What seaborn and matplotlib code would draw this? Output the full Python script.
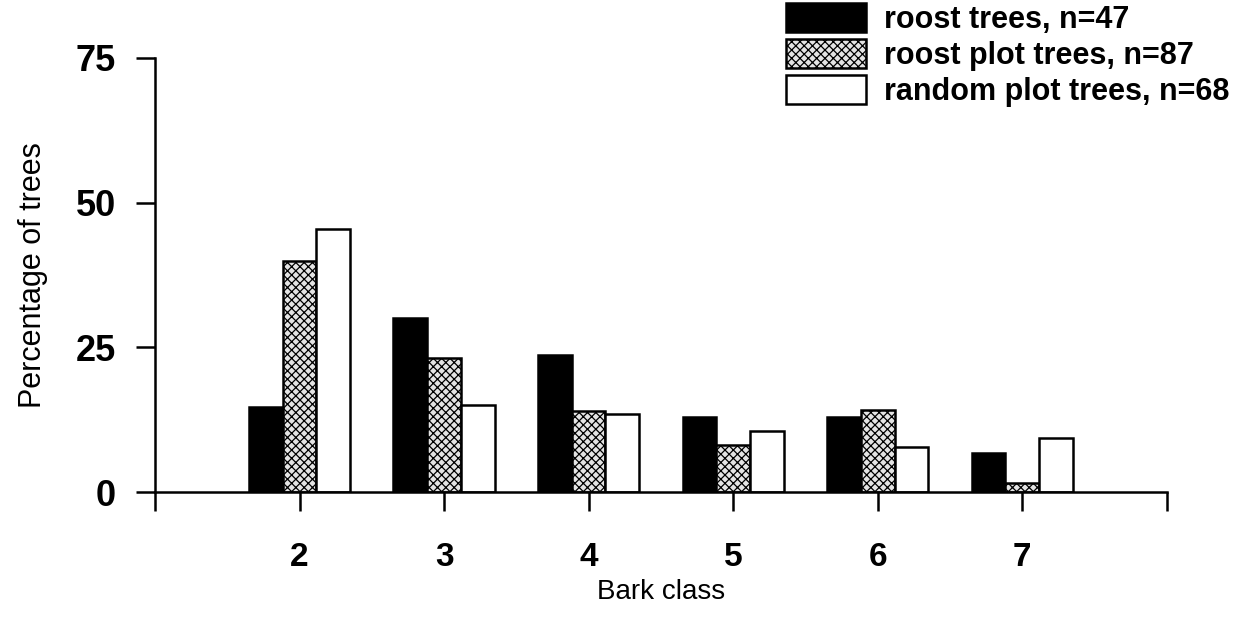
import matplotlib
matplotlib.use("Agg")
import matplotlib.pyplot as plt
import seaborn as sns
import pandas as pd

classes = ["2", "3", "4", "5", "6", "7"]
roost_trees = [14.7, 30.0, 23.6, 13.0, 13.0, 6.7]
roost_plot_trees = [40.0, 23.2, 14.0, 8.2, 14.1, 1.5]
random_plot_trees = [45.5, 15.0, 13.4, 10.5, 7.8, 9.3]
series_names = ["roost trees, n=47", "roost plot trees, n=87", "random plot trees, n=68"]
y_ticks = [0, 25, 50, 75]

df = pd.DataFrame({
    "Bark class": classes * 3,
    "pct": roost_trees + roost_plot_trees + random_plot_trees,
    "group": [series_names[0]] * 6 + [series_names[1]] * 6 + [series_names[2]] * 6,
})

sns.set_style("ticks")
plt.rcParams["font.family"] = ["Liberation Sans", "DejaVu Sans"]
plt.rcParams["hatch.linewidth"] = 0.9
plt.rcParams["text.color"] = "black"
plt.rcParams["axes.labelcolor"] = "black"
plt.rcParams["xtick.color"] = "black"
plt.rcParams["ytick.color"] = "black"

fig = plt.figure(figsize=(12.6, 6.27), dpi=100)
ax = fig.add_axes([0.123, 0.2153, 0.803, 0.6922])

palette = {series_names[0]: "black", series_names[1]: "#e4e4e4", series_names[2]: "white"}
sns.barplot(data=df, x="Bark class", y="pct", hue="group", hue_order=series_names,
            order=classes, palette=palette, width=0.7, gap=0, saturation=1,
            edgecolor="black", linewidth=1.8, ax=ax, legend=False)

for patch in ax.containers[1]:
    patch.set_hatch("xxxx")
    patch.set_edgecolor("black")
    try:
        patch.set_hatchcolor("#555555")
    except Exception:
        pass

ax.set_xlim(-1, 6)
ax.set_ylim(0, 75)
ax.set_xticks(range(-1, 7))
ax.set_xticklabels([""] + classes + [""], fontsize=24, fontweight="bold")
ax.set_yticks(y_ticks)
ax.set_yticklabels([str(v) for v in y_ticks], fontsize=26, fontweight="bold")
ax.tick_params(axis="y", length=14, width=1.8, pad=14)
ax.tick_params(axis="x", length=14, width=1.8, pad=22)
sns.despine(ax=ax, top=True, right=True)
for s in ["left", "bottom"]:
    ax.spines[s].set_linewidth(1.8)
    ax.spines[s].set_color("black")

ax.set_xlabel("Bark class", fontsize=20, labelpad=4)
ax.set_ylabel("Percentage of trees", fontsize=22, labelpad=20)

leg = fig.legend(ax.containers, series_names, loc="upper left",
                 bbox_to_anchor=(0.624, 0.995), frameon=False, fontsize=22,
                 handlelength=2.6, handleheight=1.1, handletextpad=0.6,
                 labelspacing=0.12, borderpad=0, borderaxespad=0)
for t in leg.get_texts():
    t.set_fontweight("bold")

fig.savefig("out.png", dpi=100)
